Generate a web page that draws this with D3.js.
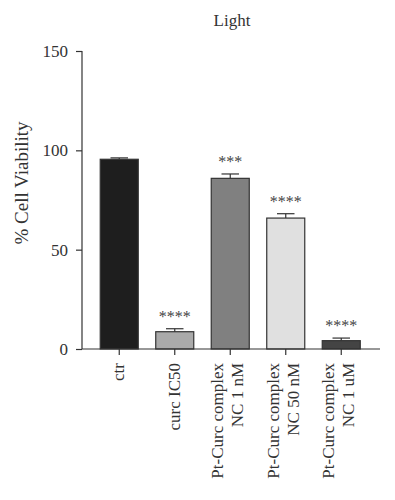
<!DOCTYPE html>
<html><head><meta charset="utf-8">
<script src="https://cdn.jsdelivr.net/npm/d3@7"></script>
<style>body{margin:0;background:#fff}svg{display:block}</style>
</head><body><svg id="c" width="395" height="500"></svg>
<script>
const categories = [["ctr"],["curc IC50"],["Pt-Curc complex","NC 1 nM"],["Pt-Curc complex","NC 50 nM"],["Pt-Curc complex","NC 1 uM"]];
const values = [95.5, 8.7, 85.9, 65.9, 4.2];
const errors = [0.7, 1.5, 2.2, 2.2, 1.3];
const stars = ["", "****", "***", "****", "****"];
const colors = ["#1e1e1e", "#aaaaaa", "#808080", "#e0e0e0", "#444444"];
const yTicks = [0, 50, 100, 150];
const title = "Light";
const yTitle = "% Cell Viability";

const FONT = "Liberation Serif, DejaVu Serif, serif";
const svg = d3.select("#c");
const x = d3.scaleBand().domain(d3.range(values.length)).range([91.5, 369]).paddingInner(0.315).paddingOuter(0.1575);
const y = d3.scaleLinear().domain([0,150]).range([349, 51]);
const ink = "#333";

// y axis
const ya = svg.append("g").attr("transform","translate(82,0)").call(d3.axisLeft(y).tickValues(yTicks).tickSize(6).tickPadding(8));
ya.attr("font-family",FONT);
ya.select(".domain").attr("stroke",ink).attr("stroke-width",1.2).attr("d","M0,"+y(150)+"V"+y(0));
ya.selectAll(".tick line").attr("stroke",ink).attr("stroke-width",1.2);
ya.selectAll(".tick text").attr("font-size",17).attr("font-family",FONT).attr("fill",ink);

// bars
const g = svg.append("g");
g.selectAll("rect").data(values).join("rect")
  .attr("x",(d,i)=>x(i)).attr("width",x.bandwidth())
  .attr("y",d=>y(d)).attr("height",d=>y(0)-y(d))
  .attr("fill",(d,i)=>colors[i]).attr("stroke",ink).attr("stroke-width",1.2);

// error bars
const capW = x.bandwidth()*0.46;
values.forEach((v,i)=>{
  const cx = x(i)+x.bandwidth()/2;
  g.append("line").attr("x1",cx).attr("x2",cx).attr("y1",y(v)).attr("y2",y(v+errors[i])).attr("stroke",ink).attr("stroke-width",1.2);
  g.append("line").attr("x1",cx-capW/2).attr("x2",cx+capW/2).attr("y1",y(v+errors[i])).attr("y2",y(v+errors[i])).attr("stroke",ink).attr("stroke-width",1.2);
  if(stars[i]) g.append("text").attr("x",cx).attr("y",y(v+errors[i])-7).attr("text-anchor","middle")
    .attr("font-family",FONT).attr("font-size",16).attr("fill","#444").text(stars[i]);
});

// x axis
const xa = svg.append("g").attr("transform","translate(0,349)").call(d3.axisBottom(x).tickSize(6).tickFormat(""));
xa.select(".domain").attr("stroke",ink).attr("stroke-width",1.2).attr("d","M82,0H380");
xa.selectAll(".tick line").attr("stroke",ink).attr("stroke-width",1.2);
categories.forEach((lines,i)=>{
  const cx = x(i)+x.bandwidth()/2;
  const n = lines.length;
  lines.forEach((t,j)=>{
    const off = (j-(n-1)/2)*20 - (n>1?2:0);
    svg.append("text").attr("transform",`translate(${cx+off+5},363) rotate(-90)`)
      .attr("text-anchor","end").attr("font-family",FONT).attr("fill",ink).attr("font-size",17).text(t);
  });
});

svg.append("text").attr("x",232).attr("y",26).attr("text-anchor","middle").attr("font-family",FONT).attr("fill",ink).attr("font-size",17).text(title);
svg.append("text").attr("transform","translate(28,183) rotate(-90)").attr("text-anchor","middle").attr("font-family",FONT).attr("fill",ink).attr("font-size",19).text(yTitle);
</script></body></html>
